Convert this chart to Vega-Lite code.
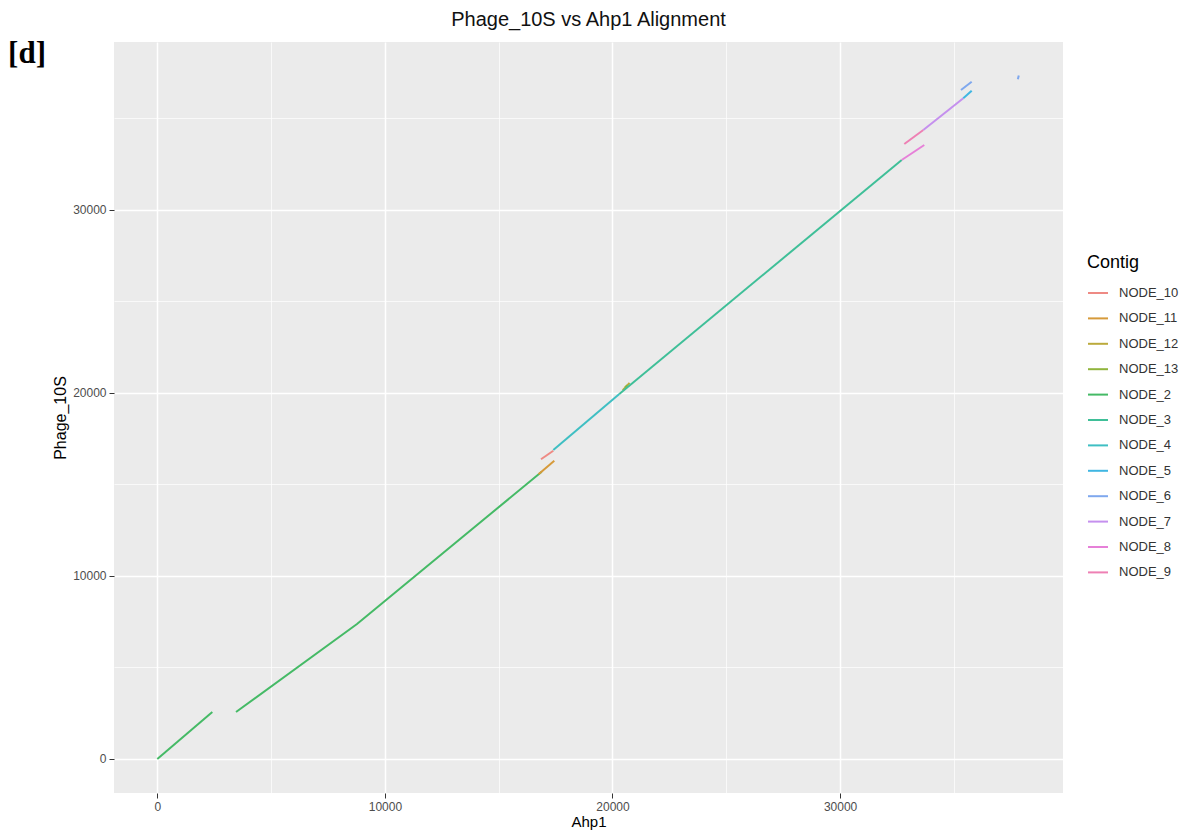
{
  "$schema": "https://vega.github.io/schema/vega-lite/v6.json",
  "width": 949,
  "height": 751,
  "autosize": "none",
  "padding": {"left": 114, "top": 42, "right": 122, "bottom": 39},
  "background": "white",
  "title": {"text": "Phage_10S vs Ahp1 Alignment", "anchor": "middle", "fontSize": 20, "fontWeight": "normal", "font": "Liberation Sans", "color": "#111111", "offset": 8},
  "config": {"view": {"fill": "#EBEBEB", "stroke": null}, "font": "Liberation Sans"},
  "layer": [
    {
      "data": {"values": [
        {"Contig": "NODE_2", "seg": "2a", "i": 0, "ahp1": 0, "phage": 0},
        {"Contig": "NODE_2", "seg": "2a", "i": 1, "ahp1": 2417, "phage": 2568},
        {"Contig": "NODE_2", "seg": "2b", "i": 0, "ahp1": 3458, "phage": 2568},
        {"Contig": "NODE_2", "seg": "2b", "i": 1, "ahp1": 8774, "phage": 7377},
        {"Contig": "NODE_2", "seg": "2b", "i": 2, "ahp1": 16889, "phage": 15699},
        {"Contig": "NODE_11", "seg": "11", "i": 0, "ahp1": 16750, "phage": 15560},
        {"Contig": "NODE_11", "seg": "11", "i": 1, "ahp1": 17443, "phage": 16301},
        {"Contig": "NODE_10", "seg": "10", "i": 0, "ahp1": 16858, "phage": 16377},
        {"Contig": "NODE_10", "seg": "10", "i": 1, "ahp1": 17399, "phage": 16847},
        {"Contig": "NODE_4", "seg": "4", "i": 0, "ahp1": 17399, "phage": 16885},
        {"Contig": "NODE_4", "seg": "4", "i": 1, "ahp1": 20300, "phage": 19950},
        {"Contig": "NODE_12", "seg": "12", "i": 0, "ahp1": 20450, "phage": 20150},
        {"Contig": "NODE_12", "seg": "12", "i": 1, "ahp1": 20750, "phage": 20550},
        {"Contig": "NODE_13", "seg": "13", "i": 0, "ahp1": 20550, "phage": 20300},
        {"Contig": "NODE_13", "seg": "13", "i": 1, "ahp1": 20650, "phage": 20420},
        {"Contig": "NODE_3", "seg": "3", "i": 0, "ahp1": 20300, "phage": 19950},
        {"Contig": "NODE_3", "seg": "3", "i": 1, "ahp1": 32707, "phage": 32732},
        {"Contig": "NODE_8", "seg": "8", "i": 0, "ahp1": 32707, "phage": 32732},
        {"Contig": "NODE_8", "seg": "8", "i": 1, "ahp1": 33699, "phage": 33552},
        {"Contig": "NODE_9", "seg": "9", "i": 0, "ahp1": 32821, "phage": 33607},
        {"Contig": "NODE_9", "seg": "9", "i": 1, "ahp1": 33656, "phage": 34372},
        {"Contig": "NODE_7", "seg": "7", "i": 0, "ahp1": 33656, "phage": 34372},
        {"Contig": "NODE_7", "seg": "7", "i": 1, "ahp1": 35413, "phage": 36104},
        {"Contig": "NODE_5", "seg": "5", "i": 0, "ahp1": 35413, "phage": 36104},
        {"Contig": "NODE_5", "seg": "5", "i": 1, "ahp1": 35782, "phage": 36519},
        {"Contig": "NODE_6", "seg": "6a", "i": 0, "ahp1": 35312, "phage": 36557},
        {"Contig": "NODE_6", "seg": "6a", "i": 1, "ahp1": 35782, "phage": 37011},
        {"Contig": "NODE_6", "seg": "6b", "i": 0, "ahp1": 37810, "phage": 37150},
        {"Contig": "NODE_6", "seg": "6b", "i": 1, "ahp1": 37850, "phage": 37350}
      ]},
      "mark": {"type": "line", "strokeWidth": 2, "clip": true},
      "encoding": {
        "x": {"field": "ahp1", "type": "quantitative",
          "scale": {"domain": [-1903, 39794], "nice": false, "zero": false},
          "axis": {
            "values": [0, 5000, 10000, 15000, 20000, 25000, 30000, 35000],
            "format": "d",
            "labelExpr": "datum.value % 10000 === 0 ? datum.label : ''",
            "grid": true, "gridColor": "#FFFFFF",
            "gridWidth": {"condition": {"test": "datum.value % 10000 === 0", "value": 1.5}, "value": 0.7},
            "tickOpacity": {"condition": {"test": "datum.value % 10000 === 0", "value": 1}, "value": 0},
            "tickSize": 5, "tickColor": "#333333", "tickWidth": 1,
            "domain": false,
            "labelFontSize": 12, "labelColor": "#4D4D4D", "labelPadding": 3,
            "title": "Ahp1", "titleFontSize": 15, "titleFontWeight": "normal", "titleColor": "#000000", "titlePadding": 2
          }},
        "y": {"field": "phage", "type": "quantitative",
          "scale": {"domain": [-1858, 39180], "nice": false, "zero": false},
          "axis": {
            "values": [0, 5000, 10000, 15000, 20000, 25000, 30000, 35000],
            "format": "d",
            "labelExpr": "datum.value % 10000 === 0 ? datum.label : ''",
            "grid": true, "gridColor": "#FFFFFF",
            "gridWidth": {"condition": {"test": "datum.value % 10000 === 0", "value": 1.5}, "value": 0.7},
            "tickOpacity": {"condition": {"test": "datum.value % 10000 === 0", "value": 1}, "value": 0},
            "tickSize": 5, "tickColor": "#333333", "tickWidth": 1,
            "domain": false,
            "labelFontSize": 12, "labelColor": "#4D4D4D", "labelPadding": 3,
            "title": "Phage_10S", "titleFontSize": 16, "titleFontWeight": "normal", "titleColor": "#000000", "titlePadding": 4
          }},
        "color": {"field": "Contig", "type": "nominal",
          "scale": {
            "domain": ["NODE_10", "NODE_11", "NODE_12", "NODE_13", "NODE_2", "NODE_3", "NODE_4", "NODE_5", "NODE_6", "NODE_7", "NODE_8", "NODE_9"],
            "range": ["#EE8A84", "#D69A3A", "#BBAA3C", "#90B43C", "#45BA66", "#3FBF98", "#3FBFC3", "#40B6E2", "#7FA8EE", "#C590EE", "#E680D8", "#EE80B4"]
          },
          "legend": {
            "orient": "none", "legendX": 973, "legendY": 212,
            "title": "Contig", "titleFontSize": 18, "titleFontWeight": "normal", "titleColor": "#000000", "titlePadding": 10,
            "symbolType": "stroke", "symbolStrokeWidth": 2, "symbolSize": 400,
            "labelFontSize": 13, "labelColor": "#333333", "labelOffset": 10, "rowPadding": 7.4
          }},
        "detail": {"field": "seg"},
        "order": {"field": "i"}
      }
    },
    {
      "data": {"values": [{"t": "[d]"}]},
      "mark": {"type": "text", "font": "Liberation Serif", "fontWeight": "bold", "fontSize": 31, "clip": false, "align": "center", "baseline": "middle", "color": "#000000"},
      "encoding": {
        "text": {"field": "t"},
        "x": {"datum": -5725},
        "y": {"datum": 38500}
      }
    }
  ]
}
